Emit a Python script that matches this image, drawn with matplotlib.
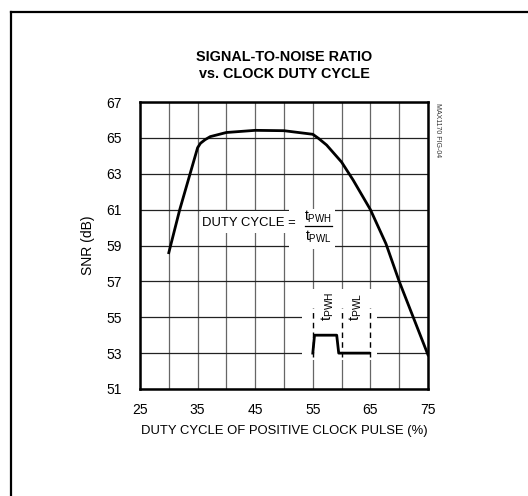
import matplotlib
matplotlib.use('Agg')
import matplotlib.pyplot as plt
from matplotlib.lines import Line2D
from matplotlib.patches import Rectangle

plt.rcParams['font.family'] = ['Liberation Sans', 'DejaVu Sans']

# SNR curve
duty = [30, 31.9, 35, 35.5, 36.3, 37.2, 40, 45, 50, 55, 56, 57.4, 60, 62, 65, 67.7, 70, 75]
snr = [58.6, 61.0, 64.45, 64.7, 64.9, 65.07, 65.3, 65.42, 65.4, 65.2, 64.97, 64.6, 63.65, 62.65, 61.0, 59.1, 57.0, 52.9]

# clock pulse sketch in the inset
pulse_x = [55, 55.3, 59.15, 59.5, 64.7]
pulse_y = [53, 54, 54, 53, 53]
pulse_marks = [55, 60, 65]

xticks = [25, 35, 45, 55, 65, 75]
yticks = [51, 53, 55, 57, 59, 61, 63, 65, 67]

fig = plt.figure(figsize=(5.28, 4.96), dpi=100)
ax = fig.add_axes([140 / 528, 1 - 389 / 496, 288 / 528, 287 / 496])

# outer frame (only left/top visible in the reference)
fig.add_artist(Line2D([11 / 528, 11 / 528], [0, 1 - 12 / 496], transform=fig.transFigure,
                      color='black', lw=1.6))
fig.add_artist(Line2D([11 / 528, 1], [1 - 12 / 496, 1 - 12 / 496], transform=fig.transFigure,
                      color='black', lw=1.6))

ax.set_xlim(25, 75)
ax.set_ylim(51, 67)
ax.set_xticks(range(25, 76, 5))
ax.set_xticklabels([str(t) if t in xticks else '' for t in range(25, 76, 5)])
ax.set_yticks(yticks)
ax.tick_params(length=0, labelsize=10, pad=10)
ax.tick_params(axis='y', pad=13)
ax.set_axisbelow(True)
ax.xaxis.grid(True, color='#666666', lw=0.9)
ax.yaxis.grid(True, color='#222222', lw=0.9)
for s in ax.spines.values():
    s.set_linewidth(1.8)

ax.plot(duty, snr, color='black', lw=2.0, zorder=3)

# white areas hiding the grid under the annotations
ax.add_patch(Rectangle((35.6, 59.7), 16.5, 1.25, facecolor='white', edgecolor='none', zorder=1.5))
ax.add_patch(Rectangle((50.9, 58.8), 8.0, 2.25, facecolor='white', edgecolor='none', zorder=1.5))
ax.add_patch(Rectangle((53.1, 52.6), 13.0, 4.0, facecolor='white', edgecolor='none', zorder=1.5))

ax.text(35.8, 60.26, 'DUTY CYCLE =', fontsize=9.4, va='center', ha='left', zorder=4)
ax.text(55.95, 60.6, r'$\mathregular{t_{PWH}}$', fontsize=10, va='center', ha='center', zorder=4)
ax.plot([53.6, 58.3], [60.1, 60.1], color='black', lw=0.9, zorder=4)
ax.text(55.95, 59.5, r'$\mathregular{t_{PWL}}$', fontsize=10, va='center', ha='center', zorder=4)

for m in pulse_marks:
    ax.plot([m, m], [52.8, 55.5], color='black', lw=1.0, ls=(0, (4, 3)), zorder=2)
ax.plot(pulse_x, pulse_y, color='black', lw=2.0, zorder=3)
ax.text(57.6, 55.6, r'$\mathregular{t_{PWH}}$', fontsize=10.5, rotation=90, va='center', ha='center', zorder=4)
ax.text(62.4, 55.6, r'$\mathregular{t_{PWL}}$', fontsize=10.5, rotation=90, va='center', ha='center', zorder=4)

ax.set_xlabel('DUTY CYCLE OF POSITIVE CLOCK PULSE (%)', fontsize=9.4, labelpad=6)
ax.set_ylabel('SNR (dB)', fontsize=10, labelpad=8)
ax.set_title('SIGNAL-TO-NOISE RATIO\nvs. CLOCK DUTY CYCLE', fontsize=10.4, fontweight='bold',
             linespacing=1.35, pad=17)

fig.text(437 / 528, 1 - 130 / 496, 'MAX1170 FIG-04', fontsize=5, rotation=270,
         va='center', ha='center', color='#333333')

fig.savefig('out.png', dpi=100)
